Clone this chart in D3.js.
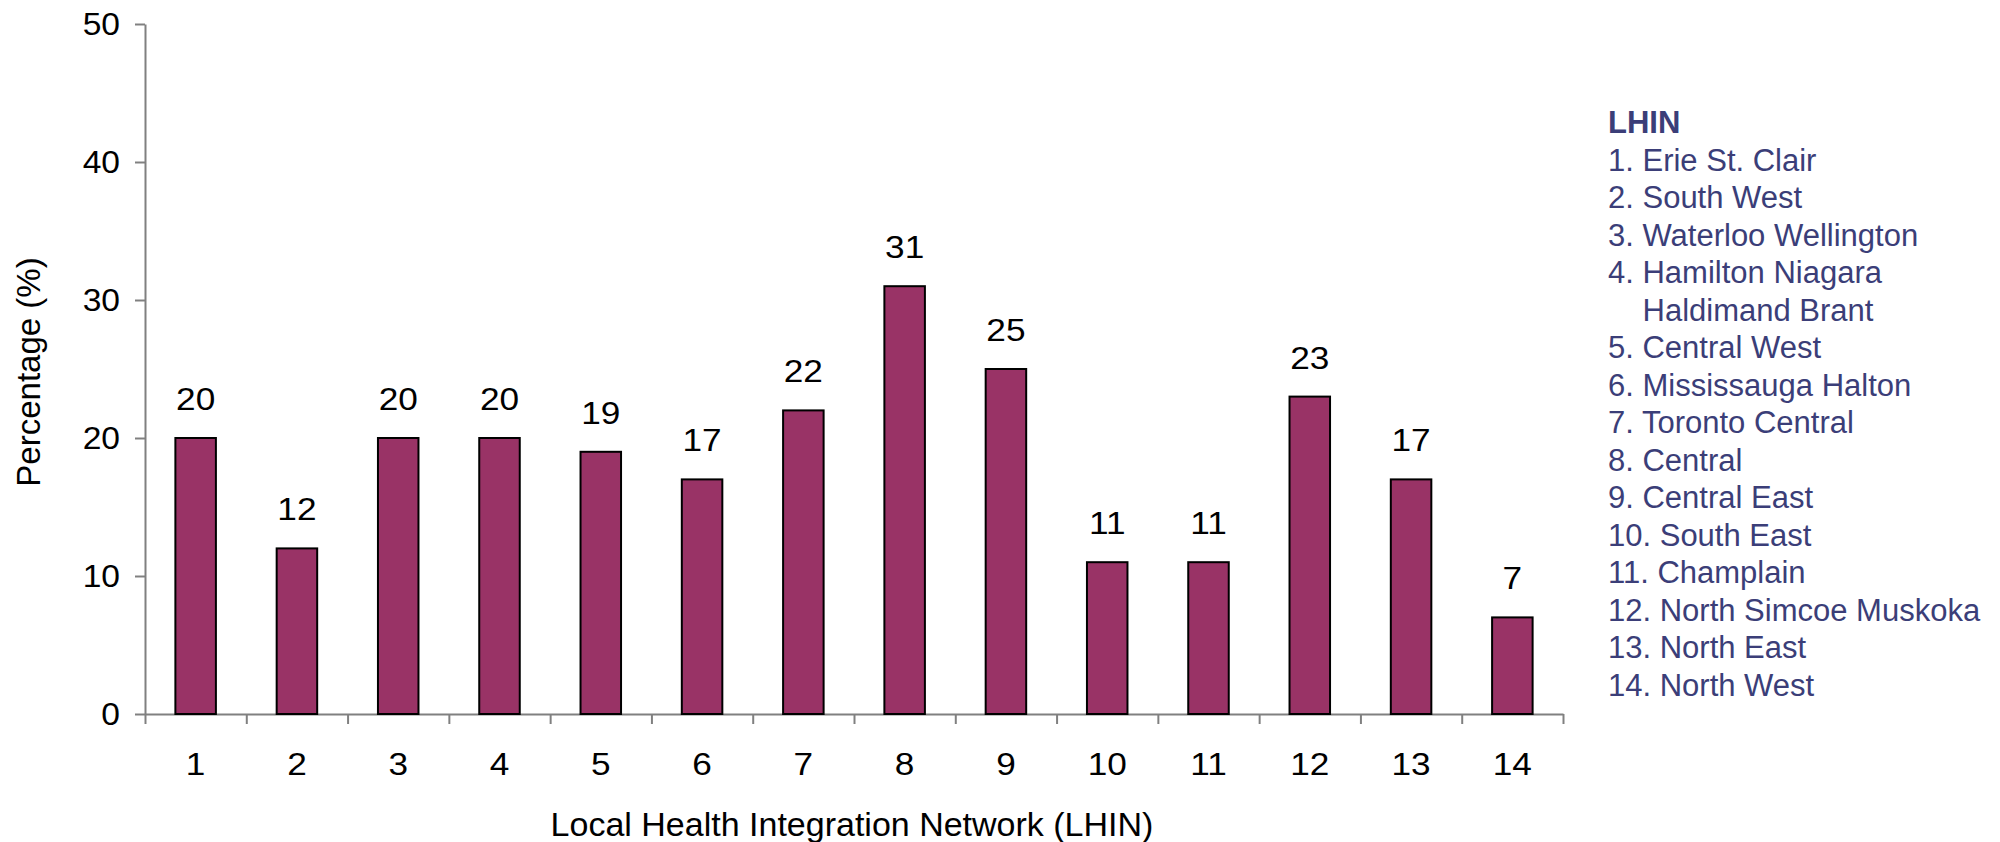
<!DOCTYPE html>
<html>
<head>
<meta charset="utf-8">
<script src="https://cdn.jsdelivr.net/npm/d3@7/dist/d3.min.js"></script>
<style>
  html, body { margin: 0; padding: 0; background: #ffffff; }
  svg { display: block; }
  text { font-family: "Liberation Sans", Arial, sans-serif; }
</style>
</head>
<body>
<svg id="chart" width="2000" height="842"></svg>
<script>
const categories = ["1","2","3","4","5","6","7","8","9","10","11","12","13","14"];
const values = [20, 12, 20, 20, 19, 17, 22, 31, 25, 11, 11, 23, 17, 7];
const yTicks = [0, 10, 20, 30, 40, 50];
const legendTitle = "LHIN";
const legendItems = [
  ["1. Erie St. Clair"],
  ["2. South West"],
  ["3. Waterloo Wellington"],
  ["4. Hamilton Niagara", "Haldimand Brant"],
  ["5. Central West"],
  ["6. Mississauga Halton"],
  ["7. Toronto Central"],
  ["8. Central"],
  ["9. Central East"],
  ["10. South East"],
  ["11. Champlain"],
  ["12. North Simcoe Muskoka"],
  ["13. North East"],
  ["14. North West"]
];
const xTitle = "Local Health Integration Network (LHIN)";
const yTitle = "Percentage (%)";

(function () {
const svg = d3.select("#chart");
const pL = 145, pR = 1563, pT = 24, pB = 714;
const axisColor = "#808080";
const barColor = "#993366";
const legendColor = "#3b3e78";
const stretch = 1.1;

const x = d3.scaleBand().domain(categories).range([pL, pR]).paddingInner(0.6).paddingOuter(0.3);
const xEdge = d3.scaleLinear().domain([0, categories.length]).range([pL, pR]);
const y = d3.scaleLinear().domain([0, 50]).range([pB, pT]);

// Y axis
const yAxis = svg.append("g").attr("transform", `translate(${pL},0)`)
  .call(d3.axisLeft(y).tickValues(yTicks).tickSize(10).tickSizeOuter(0).tickPadding(15));
yAxis.selectAll("path, line").attr("stroke", axisColor).attr("stroke-width", 2);
yAxis.selectAll("text").attr("font-size", 32).attr("fill", "#000")
  .attr("font-family", "Liberation Sans, Arial, sans-serif")
  .attr("x", -25 / 1.05).attr("transform", "scale(1.05,1)");

// X axis edge ticks
const xAxis = svg.append("g").attr("transform", `translate(0,${pB})`)
  .call(d3.axisBottom(xEdge).tickValues(d3.range(categories.length + 1)).tickFormat("").tickSize(10).tickSizeOuter(0));
xAxis.selectAll("path, line").attr("stroke", axisColor).attr("stroke-width", 2);

// X labels
const xLab = svg.append("g").attr("transform", `translate(0,${pB})`)
  .call(d3.axisBottom(x).tickSize(0).tickPadding(38));
xLab.select(".domain").remove();
xLab.selectAll("text").attr("font-size", 32).attr("fill", "#000")
  .attr("font-family", "Liberation Sans, Arial, sans-serif")
  .attr("transform", `scale(${stretch},1)`);

// Bars
svg.append("g").selectAll("rect").data(values).join("rect")
  .attr("x", (d, i) => x(categories[i]))
  .attr("y", d => y(d))
  .attr("width", x.bandwidth())
  .attr("height", d => y(0) - y(d))
  .attr("fill", barColor)
  .attr("stroke", "#000")
  .attr("stroke-width", 2);

// Data labels
svg.append("g").selectAll("text").data(values).join("text")
  .attr("transform", (d, i) => `translate(${x(categories[i]) + x.bandwidth() / 2},${y(d) - 28}) scale(${stretch},1)`)
  .attr("text-anchor", "middle")
  .attr("font-size", 32)
  .attr("fill", "#000")
  .text(d => d);

// Axis titles
svg.append("text")
  .attr("x", (pL + pR) / 2 - 2)
  .attr("y", 836)
  .attr("text-anchor", "middle")
  .attr("font-size", 34)
  .attr("fill", "#000")
  .text(xTitle);

svg.append("text")
  .attr("transform", `translate(40,372) rotate(-90)`)
  .attr("text-anchor", "middle")
  .attr("font-size", 33)
  .attr("fill", "#000")
  .text(yTitle);

// Legend
const lx = 1608, ly = 133, lh = 37.5;
const legend = svg.append("g");
legend.append("text").attr("x", lx).attr("y", ly)
  .attr("font-size", 31).attr("font-weight", "bold").attr("fill", legendColor)
  .text(legendTitle);
let line = 1;
legendItems.forEach(item => {
  item.forEach((t, j) => {
    legend.append("text")
      .attr("x", j === 0 ? lx : lx + 34.5)
      .attr("y", ly + lh * line)
      .attr("font-size", 31)
      .attr("fill", legendColor)
      .text(t);
    line++;
  });
});
})();
</script>
</body>
</html>
